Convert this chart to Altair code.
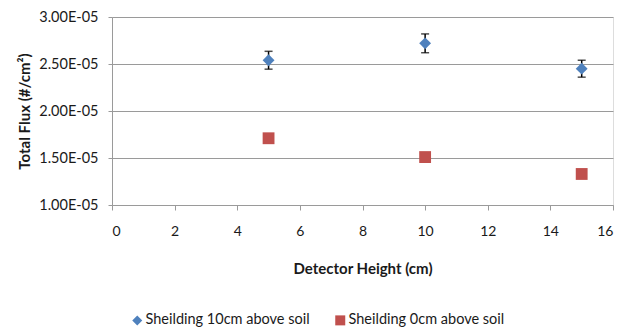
import altair as alt
import pandas as pd

# Detector heights (cm) and measured total flux (#/cm^2)
heights = [5, 10, 15]
flux_shield_10cm = [2.54e-5, 2.72e-5, 2.45e-5]
err_shield_10cm = [0.095e-5, 0.10e-5, 0.09e-5]
flux_shield_0cm = [1.71e-5, 1.51e-5, 1.33e-5]

series_names = ["Sheilding 10cm above soil", "Sheilding 0cm above soil"]
x_ticks = [0, 2, 4, 6, 8, 10, 12, 14, 16]
y_ticks = [1.0e-5, 1.5e-5, 2.0e-5, 2.5e-5, 3.0e-5]

FONT = "Lato"
TEXT = "#1a1a1a"
GRID = "#9a9a9a"

points = pd.DataFrame({
    "height": heights * 2,
    "flux": flux_shield_10cm + flux_shield_0cm,
    "series": [series_names[0]] * 3 + [series_names[1]] * 3,
})

errors = pd.DataFrame({
    "height": heights,
    "low": [v - e for v, e in zip(flux_shield_10cm, err_shield_10cm)],
    "high": [v + e for v, e in zip(flux_shield_10cm, err_shield_10cm)],
})

x_scale = alt.Scale(domain=[0, 16], nice=False)
y_scale = alt.Scale(domain=[1.0e-5, 3.0e-5], nice=False, zero=False)

x_axis = alt.Axis(
    values=x_ticks, title="Detector Height (cm)", grid=False,
    domainColor=GRID, tickColor=GRID, tickSize=5,
    labelFont=FONT, labelFontSize=14, labelColor=TEXT, labelPadding=14,
    titleFont=FONT, titleFontSize=15, titleFontWeight="bold", titleColor=TEXT,
    titlePadding=23,
)
y_axis = alt.Axis(
    values=y_ticks, title="Total Flux (#/cm²)", grid=True, gridColor=GRID,
    domainColor=GRID, tickColor=GRID, tickSize=4,
    labelExpr="format(datum.value * 1e5, '.2f') + 'E-05'",
    labelFont=FONT, labelFontSize=14.5, labelColor=TEXT, labelPadding=10,
    titleFont=FONT, titleFontSize=15, titleFontWeight="bold", titleColor=TEXT,
    titlePadding=6,
)

base_err = alt.Chart(errors)

err_rule = base_err.mark_rule(color="black", strokeWidth=1.5).encode(
    x=alt.X("height:Q", scale=x_scale, axis=x_axis),
    y=alt.Y("low:Q", scale=y_scale, axis=y_axis),
    y2="high:Q",
)
cap_low = base_err.mark_tick(color="black", thickness=1.5, size=8, orient="horizontal").encode(
    x=alt.X("height:Q", scale=x_scale),
    y=alt.Y("low:Q", scale=y_scale),
)
cap_high = base_err.mark_tick(color="black", thickness=1.5, size=8, orient="horizontal").encode(
    x=alt.X("height:Q", scale=x_scale),
    y=alt.Y("high:Q", scale=y_scale),
)

markers = alt.Chart(points).mark_point(filled=True, opacity=1, size=140).encode(
    x=alt.X("height:Q", scale=x_scale),
    y=alt.Y("flux:Q", scale=y_scale),
    color=alt.Color(
        "series:N",
        scale=alt.Scale(domain=series_names, range=["#4F81BD", "#C0504D"]),
        legend=alt.Legend(
            title=None, orient="none", direction="horizontal",
            legendX=18, legendY=296, columnPadding=23,
            labelFont=FONT, labelFontSize=14.5, labelColor=TEXT,
            symbolSize=100, labelOffset=1, labelLimit=300,
        ),
    ),
    shape=alt.Shape(
        "series:N",
        scale=alt.Scale(domain=series_names, range=["diamond", "square"]),
        legend=None,
    ),
)

chart = alt.layer(err_rule, cap_low, cap_high, markers).properties(
    width=501,
    height=188,
    autosize=alt.AutoSizeParams(type="none"),
    padding={"left": 112, "top": 17, "right": 10, "bottom": 125},
).configure_view(stroke=None).configure(background="white")

chart.save("out.html", embed_options={"renderer": "svg", "actions": False})
